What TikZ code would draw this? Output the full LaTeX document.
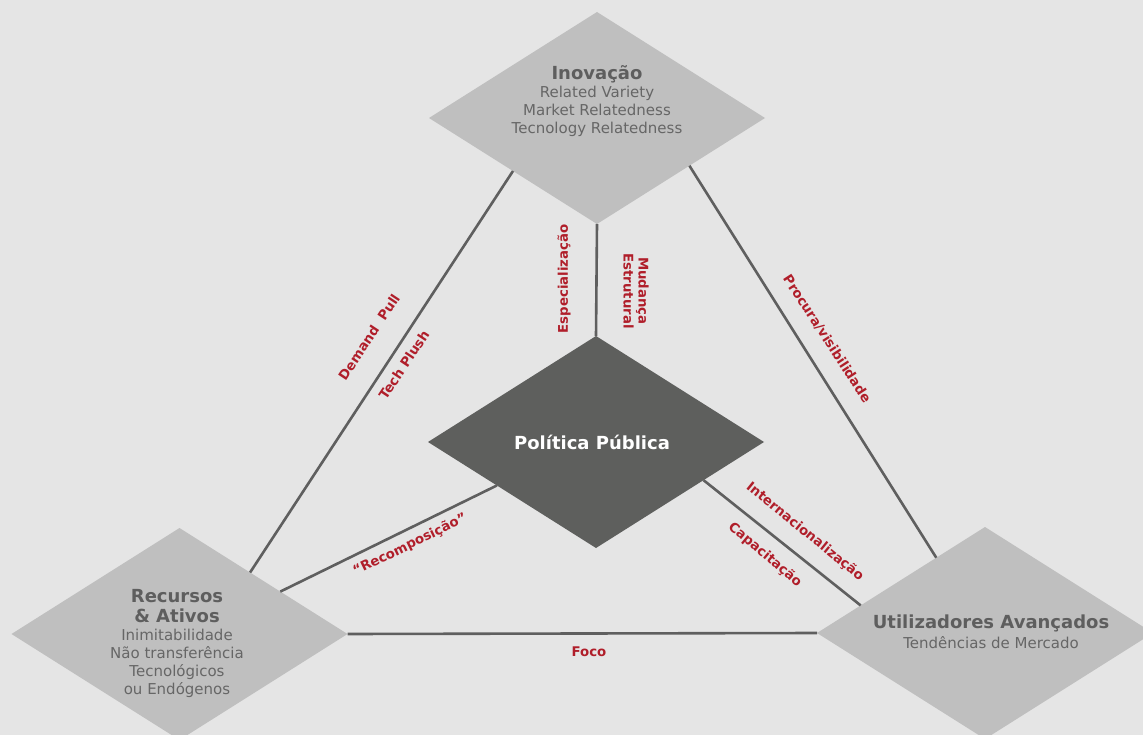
\documentclass[tikz,border=0pt]{standalone}
\usepackage{fontspec}
\setmainfont{DejaVu Sans}
\usetikzlibrary{shapes.geometric,calc}
\definecolor{bgc}{HTML}{E5E5E5}
\definecolor{diac}{HTML}{BFBFBF}
\definecolor{polc}{HTML}{5E5F5D}
\definecolor{linec}{HTML}{5F5F5F}
\definecolor{titc}{HTML}{5E5E5E}
\definecolor{subc}{HTML}{666666}
\definecolor{redc}{HTML}{B01E2A}
\tikzset{
  dia/.style={diamond, fill=diac, minimum width=336pt, minimum height=212pt, inner sep=0pt, outer sep=0pt},
  poldia/.style={dia, fill=polc},
  titletxt/.style={text=titc, font=\bfseries\fontsize{18}{20}\selectfont, align=center, inner sep=0pt},
  subtxt/.style={text=subc, font=\fontsize{15}{18}\selectfont, align=center, inner sep=0pt},
  redlbl/.style={text=redc, font=\bfseries\fontsize{13.3}{15}\selectfont, align=center, inner sep=0pt},
  conn/.style={draw=linec, line width=2.6pt}
}
\begin{document}
\begin{tikzpicture}[x=1pt,y=-1pt]
\useasboundingbox (0,0) rectangle (1143,735);
\clip (0,0) rectangle (1143,735);
\fill[bgc] (0,0) rectangle (1143,735);

% diamonds
\node[dia] (inov) at (597,118) {};
\node[poldia] (pol) at (596,442) {};
\node[dia] (rec) at (179.5,634) {};
\node[dia] (util) at (985,633) {};

% connectors
\coordinate (a1) at ($(rec.north)!0.42!(rec.east)$);
\coordinate (b1) at ($(inov.east)!0.45!(inov.south)$);
\coordinate (b2) at ($(util.north)!0.29!(util.west)$);
\coordinate (c1) at ($(pol.west)!0.41!(pol.south)$);
\coordinate (c2) at ($(rec.north)!0.6!(rec.east)$);
\coordinate (d1) at ($(pol.east)!0.36!(pol.south)$);
\coordinate (d2) at ($(util.north)!0.74!(util.west)$);
\draw[conn] (inov.south west) -- (a1);
\draw[conn] (b1) -- (b2);
\draw[conn] (inov.south) -- (pol.north);
\draw[conn] (c1) -- (c2);
\draw[conn] (d1) -- (d2);
\draw[conn] (rec.east) -- (util.west);

% texts in diamonds
\node[titletxt] (inovT) at (597,74) {Inovação};
\node[subtxt] (inovS) at (597,111.5) {Related Variety\\Market Relatedness\\Tecnology Relatedness};
\node[titletxt, text=white] (polT) at (592,442) {Política Pública};
\node[titletxt] (recT) at (177,606) {Recursos\\\& Ativos};
\node[subtxt] (recS) at (177,663) {Inimitabilidade\\Não transferência\\Tecnológicos\\ou Endógenos};
\node[titletxt] (utilT) at (991,623) {Utilizadores Avançados};
\node[subtxt] (utilS) at (991,643) {Tendências de Mercado};

% red labels
\node[redlbl, rotate=56.5] (l1) at (369,337) {Demand\ \ Pull};
\node[redlbl, rotate=56.5] (l2) at (404,365) {Tech Plush};
\node[redlbl, rotate=90] (l3) at (564,279) {Especialização};
\node[redlbl, rotate=-90] (l4) at (636,291) {Mudança\\Estrutural};
\node[redlbl, rotate=-57] (l5) at (827,339) {Procura/visibilidade};
\node[redlbl, rotate=-39] (l6) at (805,532) {Internacionalização};
\node[redlbl, rotate=-40] (l7) at (765,555) {Capacitação};
\node[redlbl, rotate=26] (l8) at (410,545) {“Recomposição”};
\node[redlbl] (l9) at (589,652) {Foco};
\end{tikzpicture}
\end{document}
